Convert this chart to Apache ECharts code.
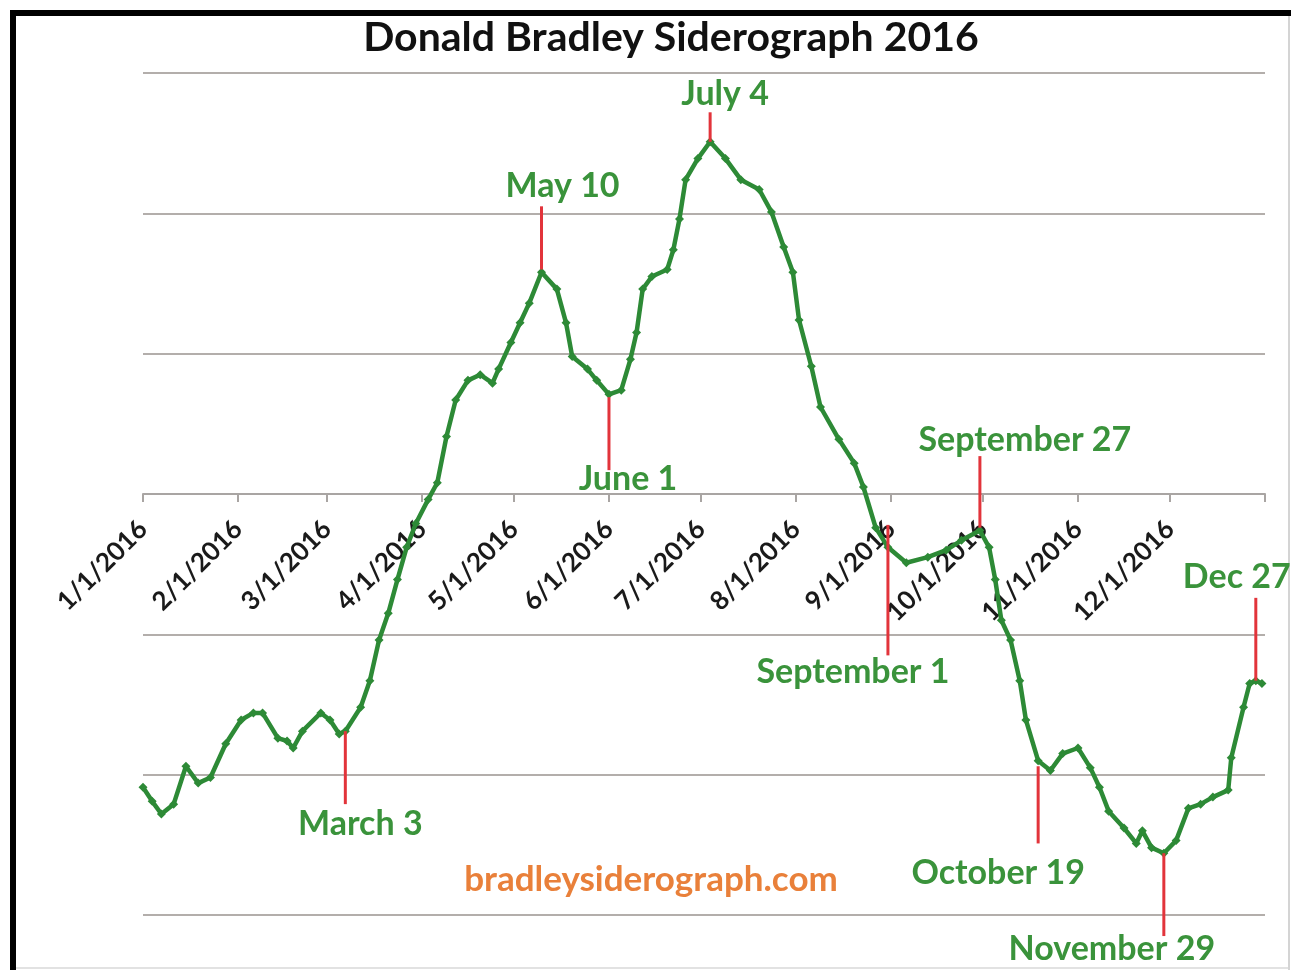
<!DOCTYPE html>
<html>
<head>
<meta charset="utf-8">
<title>Donald Bradley Siderograph 2016</title>
<script src="https://cdn.jsdelivr.net/npm/echarts@6/dist/echarts.min.js"></script>
<style>
    html, body { margin: 0; padding: 0; background: #fff; }
    #chart { width: 1291px; height: 970px; }
</style>
</head>
<body>
<div id="chart"></div>
<script>
// siderograph values
var dates = [
    '2016-01-01', '2016-01-04', '2016-01-07', '2016-01-11', '2016-01-15', '2016-01-19', '2016-01-23', '2016-01-28',
    '2016-02-02', '2016-02-06', '2016-02-09', '2016-02-14', '2016-02-17', '2016-02-19', '2016-02-22', '2016-02-28',
    '2016-03-02', '2016-03-05', '2016-03-07', '2016-03-12', '2016-03-15', '2016-03-18', '2016-03-21', '2016-03-24',
    '2016-03-27', '2016-03-30', '2016-04-03', '2016-04-06', '2016-04-09', '2016-04-12', '2016-04-16', '2016-04-20',
    '2016-04-24', '2016-04-26', '2016-04-30', '2016-05-03', '2016-05-06', '2016-05-10', '2016-05-15', '2016-05-18',
    '2016-05-20', '2016-05-25', '2016-05-28', '2016-06-01', '2016-06-05', '2016-06-08', '2016-06-10', '2016-06-12',
    '2016-06-15', '2016-06-20', '2016-06-22', '2016-06-24', '2016-06-26', '2016-06-30', '2016-07-04', '2016-07-09',
    '2016-07-14', '2016-07-20', '2016-07-24', '2016-07-28', '2016-07-31', '2016-08-02', '2016-08-06', '2016-08-09',
    '2016-08-15', '2016-08-20', '2016-08-23', '2016-08-27', '2016-08-31', '2016-09-06', '2016-09-13', '2016-09-19',
    '2016-09-24', '2016-09-30', '2016-10-03', '2016-10-05', '2016-10-07', '2016-10-10', '2016-10-13', '2016-10-15',
    '2016-10-19', '2016-10-23', '2016-10-27', '2016-11-01', '2016-11-05', '2016-11-08', '2016-11-11', '2016-11-16',
    '2016-11-20', '2016-11-22', '2016-11-25', '2016-11-29', '2016-12-03', '2016-12-07', '2016-12-11', '2016-12-15',
    '2016-12-20', '2016-12-21', '2016-12-25', '2016-12-27', '2016-12-29', '2016-12-31'
];
var values = [
    -2.09, -2.19, -2.28, -2.21, -1.94, -2.06, -2.02, -1.78,
    -1.61, -1.56, -1.56, -1.74, -1.76, -1.81, -1.69, -1.56,
    -1.61, -1.71, -1.69, -1.52, -1.33, -1.04, -0.85, -0.61,
    -0.38, -0.21, -0.04, 0.08, 0.41, 0.67, 0.81, 0.85,
    0.79, 0.89, 1.08, 1.22, 1.36, 1.58, 1.46, 1.22,
    0.98, 0.89, 0.81, 0.71, 0.74, 0.96, 1.15, 1.46,
    1.55, 1.60, 1.74, 1.96, 2.24, 2.39, 2.51, 2.39,
    2.24, 2.17, 2.01, 1.76, 1.58, 1.24, 0.91, 0.62,
    0.39, 0.22, 0.05, -0.24, -0.38, -0.49, -0.45, -0.40,
    -0.33, -0.26, -0.38, -0.61, -0.90, -1.04, -1.33, -1.61,
    -1.90, -1.97, -1.85, -1.81, -1.95, -2.09, -2.26, -2.38,
    -2.49, -2.40, -2.52, -2.56, -2.47, -2.24, -2.21, -2.16,
    -2.11, -1.88, -1.52, -1.35, -1.33, -1.35
];

// x axis ticks (month starts)
var tickDates = [
    '2016-01-01', '2016-02-01', '2016-03-01', '2016-04-01', '2016-05-01', '2016-06-01', '2016-07-01',
    '2016-08-01', '2016-09-01', '2016-10-01', '2016-11-01', '2016-12-01', '2017-01-01'
];

// turning points: where the red lines stand, their text, and where the lines start and stop
var turnDates = ['2016-03-07', '2016-05-10', '2016-06-01', '2016-07-04', '2016-08-31', '2016-09-30', '2016-10-19', '2016-11-29', '2016-12-29'];
var turnNames = ['March 3', 'May 10', 'June 1', 'July 4', 'September 1', 'September 27', 'October 19', 'November 29', 'Dec 27'];
var turnFrom = [-1.69, 1.60, 0.69, 2.51, -0.22, -0.24, -1.94, -2.56, -1.33];
var turnTo = [-2.21, 2.05, 0.17, 2.72, -1.15, 0.27, -2.49, -3.15, -0.74];

// label placement relative to the far end of each red line (px)
var labelShift = [[15, 20], [21, -20], [19, 9], [15, -18], [-35, 17], [45, -16], [-40, 30], [-52, 13], [-19, -21]];

var green = '#2d8a36';
var labelGreen = '#3a933b';
var red = '#e2343b';
var font = 'Lato, "Open Sans", sans-serif';

// dates -> ms, so the x axis can be a plain value axis with month-start ticks
function ts(s) {
    var p = s.split('-');
    return Date.UTC(+p[0], +p[1] - 1, +p[2]);
}

var myChart = echarts.init(document.getElementById('chart'));

var curve = dates.map(function (d, i) {
    return [ts(d), values[i]];
});

var turnSeries = turnDates.map(function (d, i) {
    return {
        type: 'line',
        silent: true,
        clip: false,
        symbol: 'circle',
        symbolSize: 0,
        showSymbol: true,
        lineStyle: { color: red, width: 3 },
        itemStyle: { color: 'transparent' },
        emphasis: { disabled: true },
        z: 3,
        data: [
            [ts(d), turnFrom[i]],
            {
                value: [ts(d), turnTo[i]],
                label: {
                    show: true,
                    position: 'inside',
                    offset: labelShift[i],
                    formatter: turnNames[i],
                    color: labelGreen,
                    fontFamily: font,
                    fontWeight: 'bold',
                    fontSize: 34
                }
            }
        ]
    };
});

var option = {
    animation: false,
    backgroundColor: '#ffffff',
    grid: {
        left: 143,
        right: 26,
        top: 73,
        bottom: 55,
        containLabel: false,
        outerBoundsMode: 'none'
    },
    xAxis: {
        type: 'value',
        min: ts('2016-01-01'),
        max: ts('2017-01-01'),
        // the axis sits on the zero line, half way up the plot
        offset: -421,
        axisLine: { onZero: false, lineStyle: { color: '#a9a5a3', width: 2 } },
        axisTick: {
            show: true,
            length: 8,
            customValues: tickDates.map(ts),
            lineStyle: { color: '#a9a5a3', width: 2 }
        },
        axisLabel: {
            customValues: tickDates.slice(0, 12).map(ts),
            rotate: 45,
            margin: 31,
            color: '#1a1a1a',
            fontFamily: font,
            fontWeight: 'bold',
            fontSize: 26,
            formatter: function (val) {
                var d = new Date(val);
                return (d.getUTCMonth() + 1) + '/' + d.getUTCDate() + '/' + d.getUTCFullYear();
            }
        },
        splitLine: { show: false }
    },
    yAxis: {
        type: 'value',
        min: -3,
        max: 3,
        interval: 1,
        axisLine: { show: false },
        axisTick: { show: false },
        axisLabel: { show: false },
        splitLine: { lineStyle: { color: '#b3aeab', width: 2 } }
    },
    graphic: [
        { type: 'rect', shape: { x: 10, y: 10, width: 6, height: 960 }, style: { fill: '#000' } },
        { type: 'rect', shape: { x: 10, y: 10, width: 1281, height: 6 }, style: { fill: '#000' } },
        { type: 'rect', shape: { x: 1288, y: 16, width: 2, height: 954 }, style: { fill: '#d4d4d4' } },
        { type: 'rect', shape: { x: 16, y: 967, width: 1272, height: 2 }, style: { fill: '#e2e2e2' } },
        {
            type: 'text',
            x: 671,
            y: 38,
            style: {
                text: 'Donald Bradley Siderograph 2016',
                fill: '#111',
                font: 'bold 41px ' + font,
                align: 'center',
                verticalAlign: 'middle'
            }
        },
        {
            type: 'text',
            x: 651,
            y: 880,
            style: {
                text: 'bradleysiderograph.com',
                fill: '#e9803a',
                font: 'bold 35px ' + font,
                align: 'center',
                verticalAlign: 'middle'
            }
        }
    ],
    series: [
        {
            type: 'line',
            silent: true,
            clip: false,
            data: curve,
            symbol: 'diamond',
            symbolSize: 9,
            showSymbol: true,
            showAllSymbol: true,
            lineStyle: { color: green, width: 4.5 },
            itemStyle: { color: green },
            emphasis: { disabled: true },
            z: 2
        }
    ].concat(turnSeries)
};

myChart.setOption(option);
window.addEventListener('resize', function () {
    myChart.resize();
});
</script>
</body>
</html>
